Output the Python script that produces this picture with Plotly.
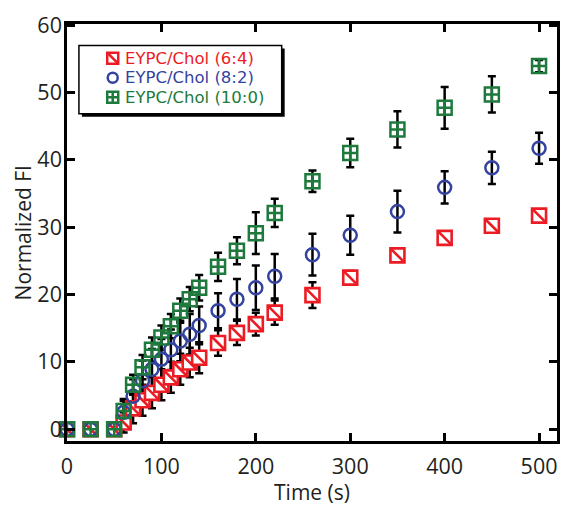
import plotly.graph_objects as go

# ---- data ----
time_s = [0, 25, 50, 60, 70, 80, 90, 100, 110, 120, 130, 140, 160, 180, 200, 220, 260, 300, 350, 400, 450, 500]

fi_64 = [0, 0, 0, 1.0, 3.1, 4.3, 5.4, 6.6, 7.7, 8.9, 9.9, 10.6, 12.8, 14.3, 15.6, 17.3, 19.9, 22.5, 25.8, 28.4, 30.2, 31.7]
err_64 = [0.3, 0.3, 0.3, 1.5, 2.2, 2.3, 2.3, 2.3, 2.3, 2.3, 2.2, 2.3, 1.9, 1.8, 1.7, 1.8, 1.9, 1.0, 0.4, 0.4, 0.4, 0.4]

fi_82 = [0, 0, 0, 2.5, 4.9, 7.2, 8.9, 10.4, 11.8, 13.1, 14.1, 15.4, 17.6, 19.3, 21.0, 22.7, 25.9, 28.8, 32.3, 35.9, 38.8, 41.7]
err_82 = [0.3, 0.3, 0.3, 2.0, 2.5, 3.0, 3.0, 3.0, 3.0, 3.0, 3.0, 2.8, 2.6, 3.0, 3.3, 3.3, 3.1, 2.9, 3.1, 2.4, 2.4, 2.3]

fi_100 = [0, 0, 0, 2.7, 6.6, 9.2, 11.8, 13.6, 15.3, 17.6, 19.3, 21.0, 24.1, 26.5, 29.1, 32.1, 36.8, 41.0, 44.5, 47.7, 49.7, 53.9]
err_100 = [0.3, 0.3, 0.3, 1.5, 1.5, 1.8, 1.8, 1.8, 1.8, 1.8, 1.8, 1.9, 2.1, 2.0, 3.1, 2.1, 1.6, 2.1, 2.7, 3.1, 2.7, 0.9]

labels = ["EYPC/Chol (6:4)", "EYPC/Chol (8:2)", "EYPC/Chol (10:0)"]
x_ticks = [0, 100, 200, 300, 400, 500]
y_ticks = [0, 10, 20, 30, 40, 50, 60]

RED = "#ec1c24"
BLUE = "#3443a0"
GREEN = "#1d7a3c"
TXT = "#231f20"
FONT = "Open Sans"
LEG_FONT = "DejaVu Sans"

fig = go.Figure()

# error bars first (drawn beneath markers)
for ys, es in [(fi_64, err_64), (fi_82, err_82), (fi_100, err_100)]:
    fig.add_trace(go.Scatter(
        x=time_s, y=ys, mode="markers",
        marker=dict(size=1, color="rgba(0,0,0,0)"),
        error_y=dict(type="data", array=es, color="black", thickness=2.5, width=4),
        showlegend=False, hoverinfo="skip"))

# red squares with diagonal
fig.add_trace(go.Scatter(
    x=time_s, y=fi_64, mode="markers", name=labels[0], cliponaxis=False,
    marker=dict(symbol="square", size=14, color="white", line=dict(width=2.6, color=RED)),
    showlegend=False))
fig.add_trace(go.Scatter(
    x=time_s, y=fi_64, mode="markers", name=labels[0], cliponaxis=False,
    marker=dict(symbol="line-nw", size=14, color=RED, line=dict(width=2.6, color=RED)),
    showlegend=False, hoverinfo="skip"))
# blue circles
fig.add_trace(go.Scatter(
    x=time_s, y=fi_82, mode="markers", name=labels[1], cliponaxis=False,
    marker=dict(symbol="circle-open", size=13, color=BLUE, line=dict(width=2.5, color=BLUE)),
    showlegend=False))
# green squares with cross
fig.add_trace(go.Scatter(
    x=time_s, y=fi_100, mode="markers", name=labels[2], cliponaxis=False,
    marker=dict(symbol="square-cross-open", size=14, color=GREEN, line=dict(width=2.5, color=GREEN)),
    showlegend=False))

# ---- custom legend on an overlay (pixel-like) axis ----
leg_x = 113
leg_rows = [58, 78, 98]
fig.add_shape(type="rect", xref="x2", yref="y2", x0=82, x1=286, y0=48, y1=118,
              fillcolor="black", line=dict(width=0), layer="below")
fig.add_shape(type="rect", xref="x2", yref="y2", x0=79, x1=283, y0=45, y1=115,
              fillcolor="white", line=dict(width=1.5, color="black"), layer="below")

fig.add_trace(go.Scatter(x=[leg_x], y=[leg_rows[0]], xaxis="x2", yaxis="y2", mode="markers",
                         marker=dict(symbol="square", size=11, color="white", line=dict(width=2.5, color=RED)),
                         showlegend=False, hoverinfo="skip"))
fig.add_trace(go.Scatter(x=[leg_x], y=[leg_rows[0]], xaxis="x2", yaxis="y2", mode="markers",
                         marker=dict(symbol="line-nw", size=11, color=RED, line=dict(width=2.5, color=RED)),
                         showlegend=False, hoverinfo="skip"))
fig.add_trace(go.Scatter(x=[leg_x], y=[leg_rows[1]], xaxis="x2", yaxis="y2", mode="markers",
                         marker=dict(symbol="circle-open", size=10, color=BLUE, line=dict(width=2.5, color=BLUE)),
                         showlegend=False, hoverinfo="skip"))
fig.add_trace(go.Scatter(x=[leg_x], y=[leg_rows[2]], xaxis="x2", yaxis="y2", mode="markers",
                         marker=dict(symbol="square-cross-open", size=11, color=GREEN, line=dict(width=2.5, color=GREEN)),
                         showlegend=False, hoverinfo="skip"))

for lab, yy, col in zip(labels, leg_rows, [RED, BLUE, GREEN]):
    fig.add_annotation(x=124, y=yy, xref="x2", yref="y2", text=lab, showarrow=False,
                       xanchor="left", yanchor="middle", borderpad=0,
                       font=dict(family=LEG_FONT, size=16.5, color=col))

# y-axis title as annotation (closer to tick labels, as in the reference)
fig.add_annotation(x=-0.09, y=0.5, xref="paper", yref="paper", text="Normalized FI", textangle=-90,
                   showarrow=False, xanchor="center", yanchor="middle",
                   font=dict(family=FONT, size=21, color=TXT))

axis_common = dict(showline=True, linewidth=2.5, linecolor="black", mirror="ticks",
                   ticks="inside", ticklen=8, tickwidth=2.5, tickcolor="black",
                   showgrid=False, zeroline=False,
                   tickfont=dict(family=FONT, size=21.5, color=TXT))

fig.update_layout(
    width=570, height=506,
    margin=dict(l=67, r=10, t=23, b=56),
    paper_bgcolor="white", plot_bgcolor="white",
    xaxis=dict(range=[0, 519], tickvals=x_ticks,
               title=dict(text="Time (s)", font=dict(family=FONT, size=21, color=TXT), standoff=2),
               ticklabelstandoff=4, **axis_common),
    yaxis=dict(range=[-1.75, 60.15], tickvals=y_ticks, ticklabelstandoff=-2, **axis_common),
    xaxis2=dict(overlaying="x", range=[67, 560], visible=False, fixedrange=True),
    yaxis2=dict(overlaying="y", range=[450, 23], visible=False, fixedrange=True),
    showlegend=False,
)

fig.write_html("out.html")
